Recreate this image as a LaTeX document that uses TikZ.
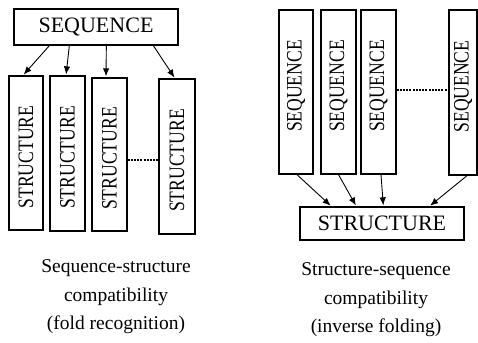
\documentclass[tikz,border=0pt]{standalone}
\usepackage{fontspec}
\setmainfont{Liberation Serif}
\usetikzlibrary{arrows.meta}
\begin{document}
\begin{tikzpicture}[x=1pt,y=-1pt,
  box/.style={draw, line width=1.3pt, inner sep=0pt},
  hbox/.style={box, font=\fontsize{22}{26}\selectfont},
  vtext/.style={inner sep=0pt, font=\fontsize{22}{26}\selectfont},
  conn/.style={-{Latex[length=8pt,width=6.5pt]}, line width=0.9pt, shorten >=1pt},
  dots/.style={line width=2pt, dash pattern=on 2pt off 1.2pt},
  caption/.style={align=center, inner sep=0pt, font=\fontsize{19.5}{28.5}\selectfont}]
\useasboundingbox (0,0) rectangle (478,342);
% ---- left panel ----
\node[hbox, minimum width=164pt, minimum height=36pt] (seq) at (96,27) {SEQUENCE};
\node[box, minimum width=34pt, minimum height=154pt] (s1) at (26,153) {};
\node[box, minimum width=35pt, minimum height=155pt] (s2) at (67.5,153.5) {};
\node[box, minimum width=35pt, minimum height=153pt] (s3) at (109.5,154.5) {};
\node[box, minimum width=36pt, minimum height=155pt] (s4) at (177,156.5) {};
\foreach \n in {s1,s2,s3,s4}
  \node[vtext] at ([yshift=-4pt]\n.center) {\rotatebox{90}{\scalebox{0.8}[1]{STRUCTURE}}};
\draw[conn] ([xshift=36pt]seq.south west) -- ([xshift=-3pt]s1.north);
\draw[conn] ([xshift=56pt]seq.south west) -- ([xshift=-1.5pt]s2.north);
\draw[conn] ([xshift=93pt]seq.south west) -- ([xshift=-3.5pt]s3.north);
\draw[conn] ([xshift=140pt]seq.south west) -- ([xshift=-2pt]s4.north);
\draw[dots] ([yshift=-5pt]s3.east) -- ([yshift=-5pt]s3.east -| s4.west);
\node[caption] (capL) at (116,297) {Sequence-structure\\compatibility\\(fold recognition)};
% ---- right panel ----
\node[box, minimum width=34pt, minimum height=164pt] (q1) at (296,92) {};
\node[box, minimum width=35pt, minimum height=164pt] (q2) at (338.5,92) {};
\node[box, minimum width=35pt, minimum height=164pt] (q3) at (378.5,92) {};
\node[box, minimum width=28pt, minimum height=165pt] (q4) at (463,92.5) {};
\foreach \n in {q1,q2,q3,q4}
  \node[vtext] at ([yshift=6pt]\n.center) {\rotatebox{90}{\scalebox{0.8}[1]{SEQUENCE}}};
\node[hbox, minimum width=164pt, minimum height=33pt] (st) at (382,223.5) {STRUCTURE};
\draw[conn] ([xshift=1pt]q1.south) -- ([xshift=32pt]st.north west);
\draw[conn] (q2.south) -- ([xshift=57pt]st.north west);
\draw[conn] ([xshift=2.5pt]q3.south) -- ([xshift=84pt]st.north west);
\draw[conn] ([xshift=4pt]q4.south) -- ([xshift=130pt]st.north west);
\draw[dots] ([yshift=2pt]q3.east) -- ([yshift=2pt]q3.east -| q4.west);
\node[caption] (capR) at (376,300) {Structure-sequence\\compatibility\\(inverse folding)};
\end{tikzpicture}
\end{document}
